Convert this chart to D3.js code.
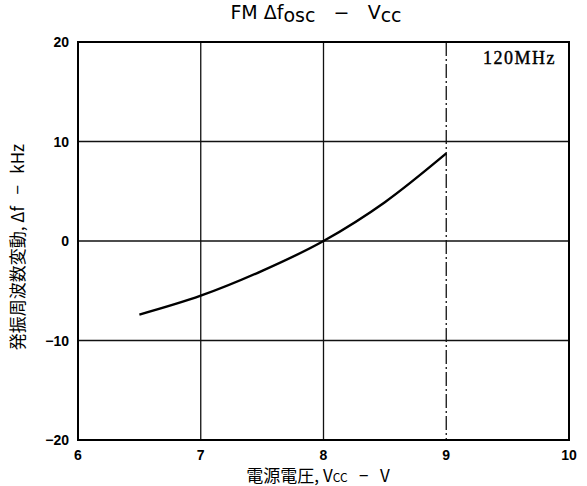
<!DOCTYPE html>
<html>
<head>
<meta charset="utf-8">
<script src="https://cdn.jsdelivr.net/npm/d3@7"></script>
<style>
  body { margin: 0; background: #fff; }
  svg text { white-space: pre; }
</style>
</head>
<body>
<div class="canva"></div>
<script>
// data
const vcc = [6.5, 7, 7.5, 8, 8.5, 9];
const dfosc = [-7.4, -5.5, -3.0, 0, 3.9, 8.8];
const xTicks = [6, 7, 8, 9, 10];
const yTicks = [-20, -10, 0, 10, 20];

const W = 587, H = 486;
const m = {left: 78, right: 18, top: 42, bottom: 46};

const svg = d3.select(".canva").append("svg")
              .attr("width", W)
              .attr("height", H);

const x = d3.scaleLinear().domain([6, 10]).range([m.left, W - m.right]);
const y = d3.scaleLinear().domain([-20, 20]).range([H - m.bottom, m.top]);

// grid lines
svg.selectAll(".vg").data([7, 8, 9]).enter().append("line")
   .attr("x1", d => x(d)).attr("x2", d => x(d))
   .attr("y1", y(20)).attr("y2", y(-20))
   .attr("stroke", "#111").attr("stroke-width", 1.3)
   .attr("stroke-dasharray", d => d === 9 ? "14,3,2,3" : null);

svg.selectAll(".hg").data([10, 0, -10]).enter().append("line")
   .attr("x1", x(6)).attr("x2", x(10))
   .attr("y1", d => y(d)).attr("y2", d => y(d))
   .attr("stroke", "#111").attr("stroke-width", 1.3);

// frame
svg.append("rect")
   .attr("x", x(6)).attr("y", y(20))
   .attr("width", x(10) - x(6)).attr("height", y(-20) - y(20))
   .attr("fill", "none").attr("stroke", "#000").attr("stroke-width", 2);

// curve
const line = d3.line().x((d, i) => x(vcc[i])).y(d => y(d)).curve(d3.curveMonotoneX);
svg.append("path")
   .attr("d", line(dfosc))
   .attr("fill", "none").attr("stroke", "#000").attr("stroke-width", 2.4);

// tick labels
svg.selectAll(".xt").data(xTicks).enter().append("text")
   .text(d => d)
   .attr("x", d => x(d)).attr("y", y(-20) + 20)
   .attr("text-anchor", "middle")
   .attr("font-family", "Liberation Sans, Arial, sans-serif")
   .attr("font-size", 14).attr("font-weight", "bold");

svg.selectAll(".yt").data(yTicks).enter().append("text")
   .text(d => d < 0 ? "\u2212" + Math.abs(d) : d)
   .attr("x", m.left - 9).attr("y", d => y(d) + 5)
   .attr("text-anchor", "end")
   .attr("font-family", "Liberation Sans, Arial, sans-serif")
   .attr("font-size", 14).attr("font-weight", "bold");

// title
const title = svg.append("text")
   .attr("x", 316).attr("y", 19)
   .attr("text-anchor", "middle")
   .attr("font-family", "DejaVu Sans, sans-serif")
   .attr("font-size", 19);
title.append("tspan").text("FM \u0394f");
title.append("tspan").text("osc").attr("dy", 3);
title.append("tspan").text("   \u2212   V").attr("dy", -3);
title.append("tspan").text("cc").attr("dy", 3);

// annotation
svg.append("text")
   .text("120MHz")
   .attr("x", 556).attr("y", 64)
   .attr("text-anchor", "end")
   .attr("font-family", "Liberation Serif, serif")
   .attr("font-size", 18)
   .attr("stroke", "#000").attr("stroke-width", 0.4)
   .attr("letter-spacing", 1.5);

// axis labels
const xl = svg.append("text")
   .attr("x", 318).attr("y", 482)
   .attr("text-anchor", "middle")
   .attr("font-family", "Noto Sans CJK JP, sans-serif")
   .attr("font-size", 17);
xl.append("tspan").text("電源電圧, V");
xl.append("tspan").text("CC").attr("font-size", 12);
xl.append("tspan").text("   \u2212   V");

svg.append("text")
   .text("発振周波数変動, \u0394f   \u2212   kHz")
   .attr("transform", "translate(24,247) rotate(-90)")
   .attr("text-anchor", "middle")
   .attr("font-family", "Noto Sans CJK JP, sans-serif")
   .attr("font-size", 17);
</script>
</body>
</html>
